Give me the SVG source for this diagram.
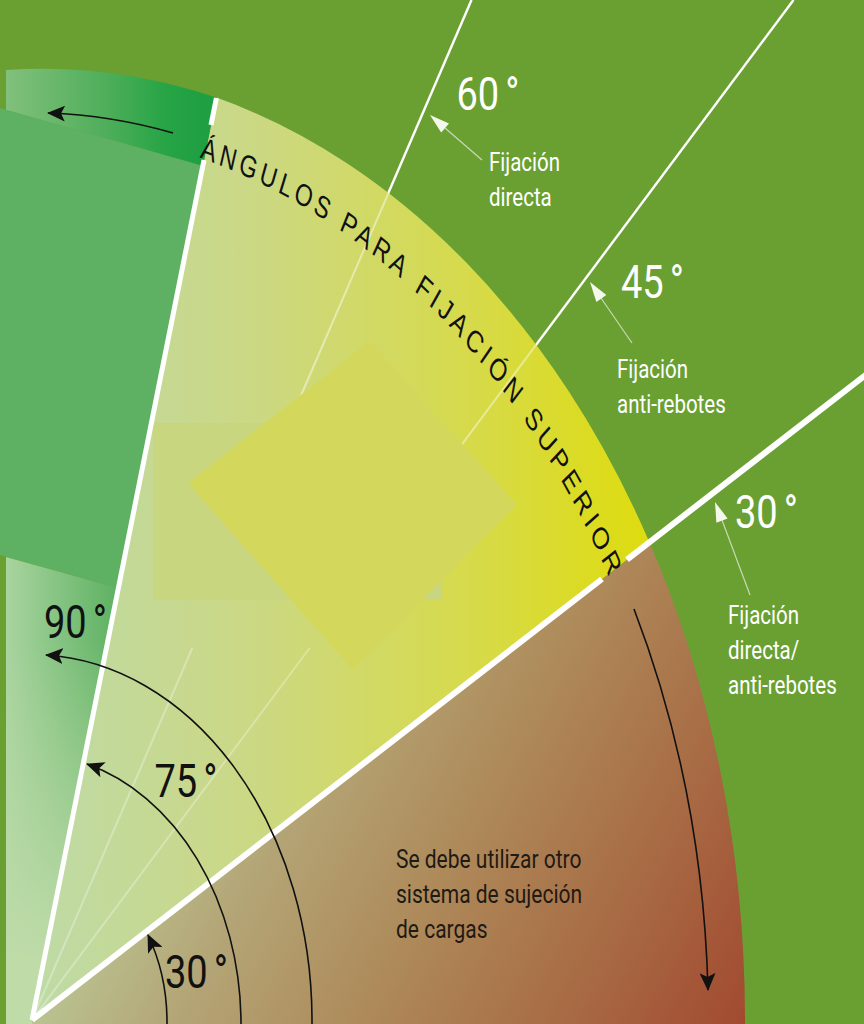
<svg xmlns="http://www.w3.org/2000/svg" width="864" height="1024" viewBox="0 0 864 1024">
<defs>
  <linearGradient id="gYellow" gradientUnits="userSpaceOnUse" x1="32" y1="0" x2="650" y2="0">
    <stop offset="0" stop-color="#bedaa6"/>
    <stop offset="0.35" stop-color="#cbd885"/>
    <stop offset="0.7" stop-color="#d6da4c"/>
    <stop offset="1" stop-color="#dedc0e"/>
  </linearGradient>
  <linearGradient id="gBrown" gradientUnits="userSpaceOnUse" x1="150" y1="700" x2="745" y2="1024">
    <stop offset="0" stop-color="#bccf9c"/>
    <stop offset="0.25" stop-color="#b4a677"/>
    <stop offset="0.5" stop-color="#ae8a5a"/>
    <stop offset="0.75" stop-color="#a86c45"/>
    <stop offset="1" stop-color="#a24a30"/>
  </linearGradient>
  <linearGradient id="gBand" gradientUnits="userSpaceOnUse" x1="6" y1="0" x2="205" y2="0">
    <stop offset="0" stop-color="#82c07c"/>
    <stop offset="0.5" stop-color="#4fae5a"/>
    <stop offset="0.8" stop-color="#27a446"/>
    <stop offset="1" stop-color="#1e9f41"/>
  </linearGradient>
  <linearGradient id="gLow" gradientUnits="userSpaceOnUse" x1="6" y1="0" x2="118" y2="0">
    <stop offset="0" stop-color="#a9d49f"/>
    <stop offset="1" stop-color="#5db162"/>
  </linearGradient>
  <linearGradient id="gLowFade" gradientUnits="userSpaceOnUse" x1="0" y1="640" x2="0" y2="960">
    <stop offset="0" stop-color="#bedba8" stop-opacity="0"/>
    <stop offset="1" stop-color="#bedba8" stop-opacity="1"/>
  </linearGradient>
  <marker id="ah" viewBox="0 0 18 16" refX="17" refY="8" markerWidth="18" markerHeight="16" markerUnits="userSpaceOnUse" orient="auto">
    <path d="M0,0 L18,8 L0,16 L4,8 Z" fill="#111"/>
  </marker>
  <path id="arcText" d="M167.6,-643.5 A665,665 0 0 1 602.7,-281"/>
</defs>
<style>
  .deg{font-family:Roboto,"Liberation Sans",sans-serif;font-size:38px}
  .w{fill:#ffffff}
  .k{fill:#111111}
  .lbl{font-family:Roboto,"Liberation Sans",sans-serif;font-size:20.5px;fill:#ffffff}
  .note{font-family:Roboto,"Liberation Sans",sans-serif;font-size:21px;fill:#1e1a14}
  .arctxt{font-family:"Liberation Sans",Arial,sans-serif;font-size:23px;fill:#111111;letter-spacing:3.8px}
  .thick{stroke:#ffffff;fill:none}
  .thin{stroke:#ffffff;stroke-width:2.4;fill:none}
  .faint{stroke:#ffffff;stroke-width:2;fill:none}
  .arc{fill:none;stroke:#111111;stroke-width:1.6;marker-end:url(#ah)}
  .ptr{stroke:#c9d8b8;stroke-width:1.2;fill:none}
  .ptrh{fill:#f4f8ec}
</style>

<!-- background -->
<rect x="0" y="0" width="864" height="1024" fill="#6aa032"/>

<!-- thin guide lines (outer part visible beyond the arc) -->
<g id="guides-outer">
  <line class="thin" x1="32" y1="1020" x2="471.5" y2="0"/>
  <line class="thin" x1="32" y1="1020" x2="793.5" y2="0"/>
</g>

<!-- sectors -->
<g id="sector-30-75">
  <path d="M32,1020 L649.5,542.5 A713,955 0 0 0 216.5,97.6 Z" fill="url(#gYellow)"/>
</g>
<g id="sector-0-30">
  <path d="M32,1024 L745,1024 L745,1020 A713,955 0 0 0 649.5,542.5 L32,1020 Z" fill="url(#gBrown)"/>
</g>
<g id="sector-75-90">
  <path d="M6,70 A713,955 0 0 1 216.5,97.6 L203,166 L6,110 Z" fill="url(#gBand)"/>
  <path d="M0,108 L203,166 L118,588 L0,555 Z" fill="#5eb062"/>
  <path d="M6,557 L118,588 L32,1020 L32,1024 L6,1024 Z" fill="url(#gLow)"/>
  <path d="M6,557 L118,588 L32,1020 L32,1024 L6,1024 Z" fill="url(#gLowFade)"/>
  <line x1="202" y1="168" x2="118" y2="588" stroke="#2aa048" stroke-width="1.5"/>
</g>

<!-- faint guide lines inside sectors -->
<g id="guides-inner">
  <line class="faint" stroke-opacity="0.45" x1="388.5" y1="193" x2="296" y2="407"/>
  <line class="faint" stroke-opacity="0.45" x1="536.2" y1="344.7" x2="460" y2="447"/>
  <line class="faint" stroke-opacity="0.3" x1="32" y1="1020" x2="192.3" y2="648"/>
  <line class="faint" stroke-opacity="0.3" x1="32" y1="1020" x2="309.7" y2="648"/>
</g>

<!-- overlay shapes inside the 30-75 sector -->
<g id="overlays">
  <rect x="153" y="423" width="289" height="177" fill="#c9d680"/>
  <path d="M188,483 L370,341 L517,505 L353,670 Z" fill="#d3d85c"/>
</g>

<!-- thick dividing lines -->
<g id="dividers">
  <line class="thick" stroke-width="5" x1="216.4" y1="98" x2="211" y2="125"/>
  <line class="thick" stroke-width="5" x1="204" y1="160" x2="32" y2="1020"/>
  <line class="thick" stroke-width="6" x1="32" y1="1020" x2="602" y2="579"/>
  <line class="thick" stroke-width="6" x1="627" y1="559.6" x2="870" y2="371.6"/>
</g>

<!-- arc title -->
<g id="title-arc" transform="translate(32,1020) scale(1,1.34)">
  <text class="arctxt"><textPath href="#arcText" startOffset="0">ÁNGULOS</textPath></text>
  <text class="arctxt"><textPath href="#arcText" startOffset="149.3">PARA</textPath></text>
  <text class="arctxt"><textPath href="#arcText" startOffset="237.3">FIJACIÓN</textPath></text>
  <text class="arctxt"><textPath href="#arcText" startOffset="382.7">SUPERIOR</textPath></text>
</g>

<!-- angle labels -->
<g id="label-60">
  <text class="deg w" transform="translate(456.5,110) scale(1,1.21)">60<tspan dx="6">°</tspan></text>
  <text class="lbl" transform="translate(489,171) scale(1,1.23)"><tspan x="0" y="0">Fijación</tspan><tspan x="0" dy="28.5">directa</tspan></text>
</g>
<g id="label-45">
  <text class="deg w" transform="translate(621,298) scale(1,1.21)">45<tspan dx="6">°</tspan></text>
  <text class="lbl" transform="translate(617,378) scale(1,1.23)"><tspan x="0" y="0">Fijación</tspan><tspan x="0" dy="28.5">anti-rebotes</tspan></text>
</g>
<g id="label-30-out">
  <text class="deg w" transform="translate(735,528) scale(1,1.21)">30<tspan dx="6">°</tspan></text>
  <text class="lbl" transform="translate(728,624) scale(1,1.23)"><tspan x="0" y="0">Fijación</tspan><tspan x="0" dy="28.3">directa/</tspan><tspan x="0" dy="28.3">anti-rebotes</tspan></text>
</g>
<g id="label-90">
  <text class="deg k" transform="translate(44,638) scale(1,1.21)">90<tspan dx="6">°</tspan></text>
</g>
<g id="label-75">
  <text class="deg k" transform="translate(154.5,797) scale(1,1.21)">75<tspan dx="6">°</tspan></text>
</g>
<g id="label-30-in">
  <text class="deg k" transform="translate(165,988) scale(1,1.21)">30<tspan dx="6">°</tspan></text>
</g>
<g id="note">
  <text class="note" transform="translate(396,868) scale(1,1.23)"><tspan x="0" y="0">Se debe utilizar otro</tspan><tspan x="0" dy="28.5">sistema de sujeción</tspan><tspan x="0" dy="28.5">de cargas</tspan></text>
</g>

<!-- connectors -->
<g id="connectors">
  <path class="arc" stroke-width="2" d="M173,133 A676,906 0 0 0 48,113"/>
  <path class="arc" stroke-width="2" d="M634,609 A676,906 0 0 1 708,990"/>
  <path class="arc" d="M312,1030 L312,1020 A280,366 0 0 0 46,655"/>
  <path class="arc" d="M241,1030 L241,1020 A210,270 0 0 0 87,764"/>
  <path class="arc" d="M167,1030 L167,1020 A135,170 0 0 0 148,935"/>
  <line class="ptr" x1="445" y1="128" x2="482" y2="160"/>
  <path class="ptrh" d="M430,115 L449,123.6 L441.2,132.6 Z"/>
  <line class="ptr" x1="601" y1="298" x2="632" y2="343"/>
  <path class="ptrh" d="M590,282 L606.3,295.1 L596.4,301.9 Z"/>
  <line class="ptr" x1="722" y1="520" x2="750" y2="595"/>
  <path class="ptrh" d="M715,502 L727.6,518.6 L716.4,522.8 Z"/>
</g>
</svg>
